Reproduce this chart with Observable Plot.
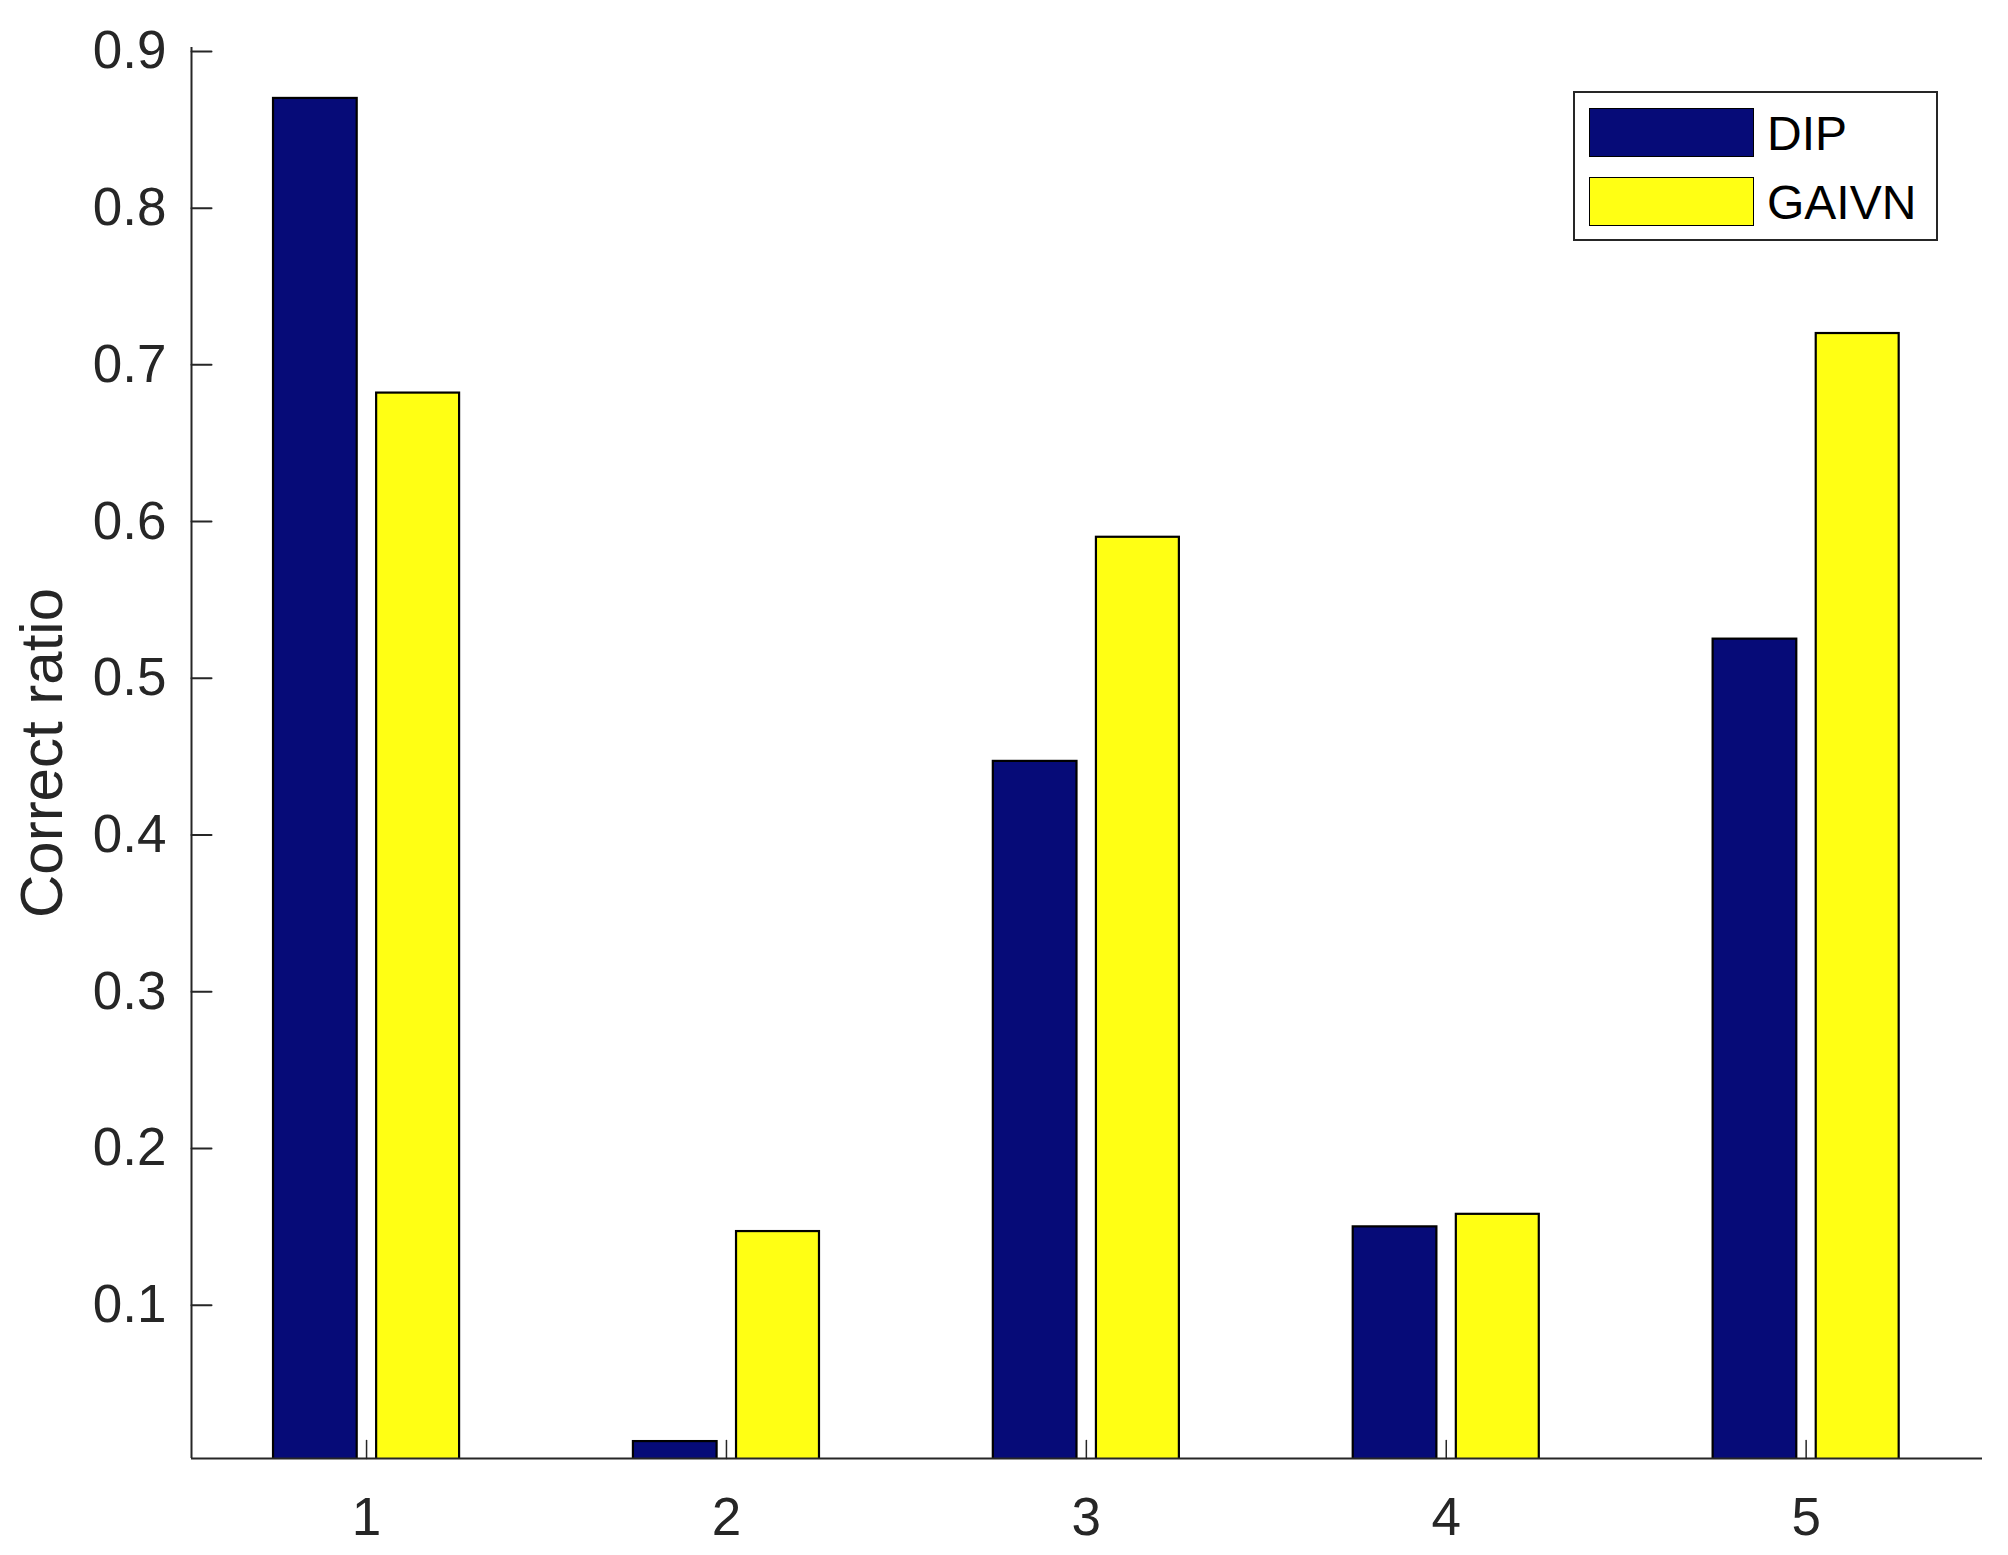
<!DOCTYPE html>
<html>
<head>
<meta charset="utf-8">
<script src="https://cdn.jsdelivr.net/npm/d3@7"></script>
<script src="https://cdn.jsdelivr.net/npm/@observablehq/plot@0.6"></script>
<style>
  html, body { margin: 0; padding: 0; background: #ffffff; }
  #wrap { position: relative; width: 2008px; height: 1555px; font-family: "Liberation Sans", Arial, Helvetica, sans-serif; }
  #legend { position: absolute; left: 1573px; top: 91px; width: 361px; height: 146px; border: 2px solid #262626; background: #fff; }
  .row { position: absolute; left: 14px; height: 50px; display: flex; align-items: center; }
  .sw { width: 163px; height: 47px; border: 1.5px solid #000; box-sizing: content-box; }
  .lab { margin-left: 13px; font-size: 48px; color: #000; line-height: 50px; position: relative; top: 2px; }
</style>
</head>
<body>
<div id="wrap"><div id="legend"></div></div>
<script>
const categories = [1, 2, 3, 4, 5];
const seriesNames = ["DIP", "GAIVN"];
const dipValues = [0.870, 0.013, 0.447, 0.150, 0.525];
const gaivnValues = [0.682, 0.147, 0.590, 0.158, 0.720];
const yTicks = [0.1, 0.2, 0.3, 0.4, 0.5, 0.6, 0.7, 0.8, 0.9];
const colors = ["#060b78", "#ffff14"];

const table = [];
categories.forEach((c, i) => {
  table.push({cat: c, series: "DIP", value: dipValues[i]});
  table.push({cat: c, series: "GAIVN", value: gaivnValues[i]});
});

const xDomain = [0.5136, 5.49];
const yDomain = [0.0022, 0.9025];
// grouped bar geometry (in category units)
const inner = {DIP: [-0.2585, -0.026], GAIVN: [0.028, 0.2585]};
const lineShape = {draw(context, l) { context.moveTo(0, 0); context.lineTo(0, -l); }};
const axisColor = "#262626";
const font = "Liberation Sans, Arial, Helvetica, sans-serif";

const chart = Plot.plot({
  width: 2008,
  height: 1555,
  marginLeft: 191,
  marginRight: 26,
  marginTop: 47,
  marginBottom: 97,
  style: {fontFamily: font, background: "#ffffff", overflow: "visible"},
  x: {type: "linear", domain: xDomain, axis: null},
  y: {type: "linear", domain: yDomain, axis: null},
  color: {domain: seriesNames, range: colors},
  marks: [
    Plot.rect(table, {
      x1: d => d.cat + inner[d.series][0],
      x2: d => d.cat + inner[d.series][1],
      y1: 0,
      y2: "value",
      fill: "series",
      stroke: "#000",
      strokeWidth: 2.2,
      clip: true
    }),
    // axis lines
    Plot.ruleX([xDomain[0]], {stroke: axisColor, strokeWidth: 2}),
    Plot.ruleY([yDomain[0]], {stroke: axisColor, strokeWidth: 2}),
    // inward ticks
    Plot.vector(yTicks, {y: d => d, frameAnchor: "left", length: 20, rotate: 90, anchor: "start", shape: lineShape, stroke: axisColor, strokeWidth: 2}),
    Plot.vector(categories, {x: d => d, frameAnchor: "bottom", length: 18, rotate: 0, anchor: "start", shape: lineShape, stroke: axisColor, strokeWidth: 1.5}),
    // tick labels
    Plot.text(yTicks, {y: d => d, text: d => d.toFixed(1), frameAnchor: "left", dx: -25, textAnchor: "end", lineAnchor: "middle", fontSize: 53, fill: axisColor}),
    Plot.text(categories, {x: d => d, text: d => String(d), frameAnchor: "bottom", dy: 39, textAnchor: "middle", lineAnchor: "top", fontSize: 53, fill: axisColor}),
    // y axis label
    Plot.text(["Correct ratio"], {frameAnchor: "left", dx: -149, rotate: -90, textAnchor: "middle", lineAnchor: "middle", fontSize: 60, fill: axisColor})
  ]
});
document.getElementById("wrap").prepend(chart);
chart.style.position = "absolute";
chart.style.left = "0px";
chart.style.top = "0px";

const legend = document.getElementById("legend");
const rowTops = [14, 83];
seriesNames.forEach((name, i) => {
  const row = document.createElement("div");
  row.className = "row";
  row.style.top = rowTops[i] + "px";
  const sw = document.createElement("div");
  sw.className = "sw";
  sw.style.background = colors[i];
  const lab = document.createElement("span");
  lab.className = "lab";
  lab.textContent = name;
  row.appendChild(sw);
  row.appendChild(lab);
  legend.appendChild(row);
});
</script>
</body>
</html>
